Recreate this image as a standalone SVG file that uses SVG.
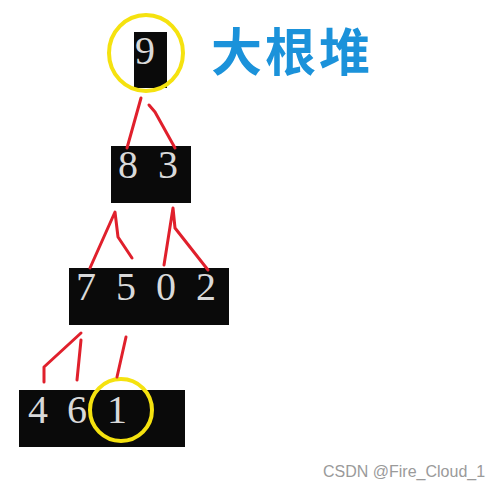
<svg xmlns="http://www.w3.org/2000/svg" width="504" height="491" viewBox="0 0 504 491">
<style>
.box{fill:#0a0a0a}
.d{font-family:"Liberation Serif","Times New Roman",serif;font-size:40px;fill:#d9d9d9;text-anchor:middle}
.ring{fill:none;stroke:#f5e20f;stroke-width:4}
.edge{fill:none;stroke:#e0202c;stroke-width:3;stroke-linecap:round;stroke-linejoin:round}
</style>
<rect width="504" height="491" fill="#ffffff"/>
<g id="title"><text x="211" y="71" font-family="'Noto Sans CJK SC',sans-serif" font-size="51" font-weight="bold" letter-spacing="3" fill="#1b92da">大根堆</text></g>
<g id="node-root">
<rect class="box" x="134" y="32" width="33" height="56"/>
<text class="d" x="145" y="64">9</text>
<ellipse class="ring" cx="146" cy="53" rx="37" ry="38"/>
</g>
<g id="node-row2">
<rect class="box" x="111" y="146" width="80" height="57"/>
<text class="d" x="128" y="178">8</text>
<text class="d" x="168" y="178">3</text>
</g>
<g id="node-row3">
<rect class="box" x="69" y="268" width="160" height="57"/>
<text class="d" x="86" y="300">7</text>
<text class="d" x="126" y="300">5</text>
<text class="d" x="166" y="300">0</text>
<text class="d" x="206" y="300">2</text>
</g>
<g id="node-row4">
<rect class="box" x="19" y="390" width="166" height="57"/>
<text class="d" x="38" y="423">4</text>
<text class="d" x="77" y="423">6</text>
<text class="d" x="117" y="423">1</text>
<circle class="ring" cx="121" cy="410" r="31"/>
</g>
<g id="connectors">
<path class="edge" d="M141,98 L127,148"/>
<path class="edge" d="M149,105 L155,112 L175,148"/>
<path class="edge" d="M90,268 L115,212 L118,237 L132,258"/>
<path class="edge" d="M164,265 L173,208 L175,228 L208,270"/>
<path class="edge" d="M81,333 L44,367 L44,382"/>
<path class="edge" d="M81,340 L77,380"/>
<path class="edge" d="M126,337 L117,377"/>
</g>
<text x="323" y="477" font-family="'Liberation Sans',Arial,sans-serif" font-size="16" fill="#9a9a9a">CSDN @Fire_Cloud_1</text>
</svg>
